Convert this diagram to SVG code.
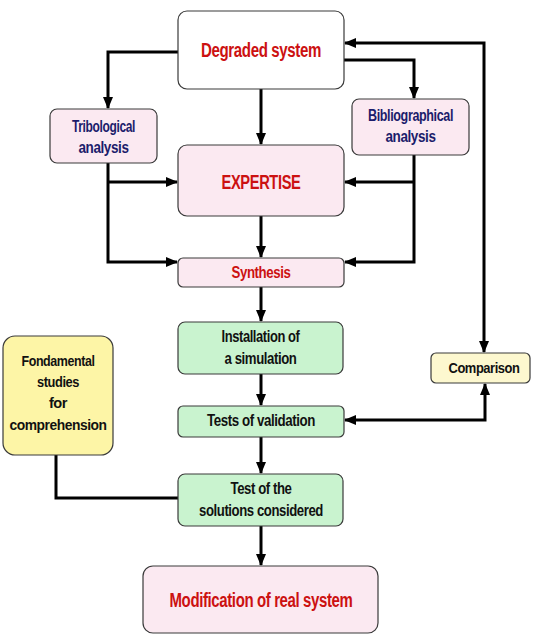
<svg xmlns="http://www.w3.org/2000/svg" width="535" height="642" viewBox="0 0 535 642">
<style>
.box{stroke:#3a3a3a;stroke-width:1.2}
.pink{fill:#fbe9f1}
.green{fill:#c9f3cf}
.white{fill:#ffffff}
.yel{fill:#fdf5a6}
.lyel{fill:#fdf8cf}
text{font-family:"Liberation Sans",Arial,sans-serif;font-weight:bold;text-anchor:middle;letter-spacing:-0.5px}
.red{fill:#cc1111}
.navy{fill:#1c1c6b}
.blk{fill:#111111}
.ln{fill:none;stroke:#000;stroke-width:3}
</style>
<defs>
<marker id="ah" markerUnits="userSpaceOnUse" markerWidth="12" markerHeight="12" viewBox="0 0 12 12" refX="11" refY="6" orient="auto">
<path d="M0,1 L12,6 L0,11 Z" fill="#000"/>
</marker>
<marker id="ahs" markerUnits="userSpaceOnUse" markerWidth="12" markerHeight="12" viewBox="0 0 12 12" refX="1" refY="6" orient="auto">
<path d="M12,1 L0,6 L12,11 Z" fill="#000"/>
</marker>
</defs>
<g id="connectors">
<path class="ln" d="M178,52 H108 V108" marker-end="url(#ah)"/>
<path class="ln" d="M344,60 H414 V98" marker-end="url(#ah)"/>
<path class="ln" d="M261,89 V144" marker-end="url(#ah)"/>
<path class="ln" d="M484,352 V43 H345" marker-start="url(#ahs)" marker-end="url(#ah)"/>
<path class="ln" d="M108,163 V262 H177" marker-end="url(#ah)"/>
<path class="ln" d="M108,182 H177" marker-end="url(#ah)"/>
<path class="ln" d="M414,155 V262 H345" marker-end="url(#ah)"/>
<path class="ln" d="M414,182 H345" marker-end="url(#ah)"/>
<path class="ln" d="M261,216 V257" marker-end="url(#ah)"/>
<path class="ln" d="M261,287 V321" marker-end="url(#ah)"/>
<path class="ln" d="M261,374 V405" marker-end="url(#ah)"/>
<path class="ln" d="M261,437 V473" marker-end="url(#ah)"/>
<path class="ln" d="M261,526 V565" marker-end="url(#ah)"/>
<path class="ln" d="M345,420 H485 V384" marker-start="url(#ahs)" marker-end="url(#ah)"/>
<path class="ln" d="M56,455 V498 H178"/>
</g>
<g id="degraded">
<rect class="box white" x="178" y="11" width="166" height="78" rx="9"/>
<text class="red" x="261" y="57" font-size="20" textLength="120" lengthAdjust="spacingAndGlyphs">Degraded system</text>
</g>
<g id="tribological">
<rect class="box pink" x="50" y="109" width="107" height="54" rx="7"/>
<text class="navy" x="103.5" y="132" font-size="16.5" textLength="63" lengthAdjust="spacingAndGlyphs">Tribological</text>
<text class="navy" x="103.5" y="153" font-size="16.5" textLength="50" lengthAdjust="spacingAndGlyphs">analysis</text>
</g>
<g id="bibliographical">
<rect class="box pink" x="352" y="99" width="117" height="56" rx="7"/>
<text class="navy" x="410.5" y="121" font-size="16.5" textLength="85" lengthAdjust="spacingAndGlyphs">Bibliographical</text>
<text class="navy" x="410.5" y="142" font-size="16.5" textLength="50" lengthAdjust="spacingAndGlyphs">analysis</text>
</g>
<g id="expertise">
<rect class="box pink" x="178" y="145" width="166" height="71" rx="9"/>
<text class="red" x="261" y="189" font-size="20" textLength="79" lengthAdjust="spacingAndGlyphs">EXPERTISE</text>
</g>
<g id="synthesis">
<rect class="box pink" x="178" y="258" width="166" height="29" rx="5"/>
<text class="red" x="261" y="278" font-size="16.5" textLength="59" lengthAdjust="spacingAndGlyphs">Synthesis</text>
</g>
<g id="installation">
<rect class="box green" x="178" y="322" width="165" height="52" rx="7"/>
<text class="blk" x="260.5" y="342" font-size="16" textLength="78" lengthAdjust="spacingAndGlyphs">Installation of</text>
<text class="blk" x="260.5" y="364" font-size="16" textLength="72" lengthAdjust="spacingAndGlyphs">a simulation</text>
</g>
<g id="validation">
<rect class="box green" x="178" y="406" width="166" height="31" rx="5"/>
<text class="blk" x="261" y="426" font-size="16" textLength="108" lengthAdjust="spacingAndGlyphs">Tests of validation</text>
</g>
<g id="fondamental">
<rect class="box yel" x="3" y="336" width="110" height="119" rx="12"/>
<text class="blk" x="58" y="366" font-size="15" textLength="73" lengthAdjust="spacingAndGlyphs">Fondamental</text>
<text class="blk" x="58" y="387" font-size="15" textLength="42" lengthAdjust="spacingAndGlyphs">studies</text>
<text class="blk" x="58" y="408" font-size="15" textLength="18" lengthAdjust="spacingAndGlyphs">for</text>
<text class="blk" x="58" y="430" font-size="15" textLength="97" lengthAdjust="spacingAndGlyphs">comprehension</text>
</g>
<g id="comparison">
<rect class="box lyel" x="431" y="353" width="99" height="30" rx="5"/>
<text class="blk" x="484" y="373" font-size="15" textLength="71" lengthAdjust="spacingAndGlyphs">Comparison</text>
</g>
<g id="solutions">
<rect class="box green" x="178" y="474" width="165" height="52" rx="7"/>
<text class="blk" x="261" y="494" font-size="16" textLength="61" lengthAdjust="spacingAndGlyphs">Test of the</text>
<text class="blk" x="261" y="516" font-size="16" textLength="124" lengthAdjust="spacingAndGlyphs">solutions considered</text>
</g>
<g id="modification">
<rect class="box pink" x="143" y="566" width="235" height="67" rx="10"/>
<text class="red" x="261" y="607" font-size="20" textLength="183" lengthAdjust="spacingAndGlyphs">Modification of real system</text>
</g>
</svg>
